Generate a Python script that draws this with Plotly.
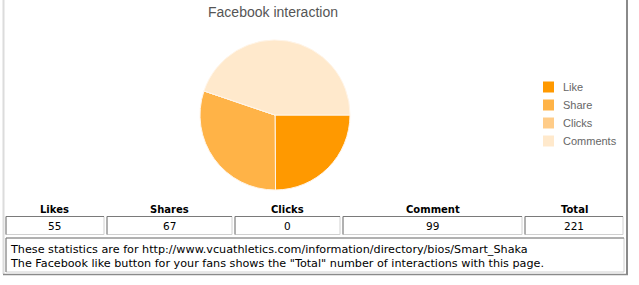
import plotly.graph_objects as go

# ---- data ----
slice_labels = ["Like", "Share", "Clicks", "Comments"]
slice_values = [55, 67, 0, 99]
slice_colors = ["#FF9900", "#FFB347", "#FFCC88", "#FFE9CC"]

table_headers = ["Likes", "Shares", "Clicks", "Comment", "Total"]
table_values = [55, 67, 0, 99, 221]

chart_title = "Facebook interaction"
note_lines = [
    "These statistics are for http://www.vcuathletics.com/information/directory/bios/Smart_Shaka",
    "The Facebook like button for your fans shows the \"Total\" number of interactions with this page.",
]

W, H = 639, 285
def px(x):
    return x / W
def py(y):
    return 1 - y / H

fig = go.Figure()
fig.add_trace(go.Pie(
    labels=slice_labels,
    values=slice_values,
    sort=False,
    direction="clockwise",
    rotation=90,
    textinfo="none",
    hoverinfo="label+value",
    showlegend=False,
    marker=dict(colors=slice_colors, line=dict(color="#FFF5E8", width=1)),
    domain=dict(x=[px(200), px(350)], y=[py(190), py(40)]),
))

shapes = []
annotations = []

# legend (drawn manually for exact spacing)
for i, (lab, col) in enumerate(zip(slice_labels, slice_colors)):
    yc = 87 + i * 18
    shapes.append(dict(type="rect", xref="paper", yref="paper", x0=px(543), x1=px(554),
                       y0=py(yc + 5.5), y1=py(yc - 5.5), line=dict(width=0), fillcolor=col))
    annotations.append(dict(text=lab, x=px(561), y=py(yc), xref="paper", yref="paper",
                            showarrow=False, xanchor="left", yanchor="middle",
                            font=dict(family="Liberation Sans", size=11, color="#666666")))

# outer frame
shapes.append(dict(type="line", xref="paper", yref="paper", x0=px(3.5), x1=px(3.5), y0=py(0), y1=py(274),
                   line=dict(color="#DCDCDC", width=2)))
shapes.append(dict(type="line", xref="paper", yref="paper", x0=px(627), x1=px(627), y0=py(0), y1=py(275),
                   line=dict(color="#8A8A8A", width=2)))
shapes.append(dict(type="line", xref="paper", yref="paper", x0=px(3), x1=px(628), y0=py(274.5), y1=py(274.5),
                   line=dict(color="#8A8A8A", width=1.5)))

# table cells (pixel bounds)
cells = [(6, 104), (107, 232), (235, 340), (343, 522), (525, 623)]
ct, cb = 216.5, 234.5

def inset_box(x0, x1, y0, y1):
    shapes.append(dict(type="rect", xref="paper", yref="paper", x0=px(x0), x1=px(x1), y0=py(y1), y1=py(y0),
                       line=dict(color="#D0D0D0", width=1), fillcolor="white", layer="below"))
    shapes.append(dict(type="line", xref="paper", yref="paper", x0=px(x0), x1=px(x1), y0=py(y0), y1=py(y0),
                       line=dict(color="#7A7A7A", width=1)))
    shapes.append(dict(type="line", xref="paper", yref="paper", x0=px(x0), x1=px(x0), y0=py(y0), y1=py(y1),
                       line=dict(color="#7A7A7A", width=1)))

for (x0, x1), head, val in zip(cells, table_headers, table_values):
    inset_box(x0, x1, ct, cb)
    xc = (x0 + x1) / 2
    annotations.append(dict(text="<b>" + head + "</b>", x=px(xc), y=py(209.5), xref="paper", yref="paper",
                            showarrow=False, xanchor="center", yanchor="middle",
                            font=dict(family="DejaVu Sans", size=10, color="#000000")))
    annotations.append(dict(text=str(val), x=px(xc), y=py(226), xref="paper", yref="paper",
                            showarrow=False, xanchor="center", yanchor="middle",
                            font=dict(family="DejaVu Sans", size=10.5, color="#000000")))

# note box
inset_box(6, 624, 238, 272)
for i, line in enumerate(note_lines):
    annotations.append(dict(text=line, x=px(8), y=py(249 + i * 14.5), xref="paper", yref="paper",
                            showarrow=False, xanchor="left", yanchor="middle",
                            font=dict(family="DejaVu Sans", size=11.2, color="#000000")))

fig.update_layout(
    width=W, height=H,
    margin=dict(l=0, r=0, t=0, b=0),
    paper_bgcolor="white", plot_bgcolor="white",
    title=dict(text=chart_title, x=px(273), xanchor="center", y=py(12), yanchor="middle",
               font=dict(family="Liberation Sans", size=14, color="#555555")),
    showlegend=False,
    shapes=shapes,
    annotations=annotations,
)

fig.write_html("out.html")
